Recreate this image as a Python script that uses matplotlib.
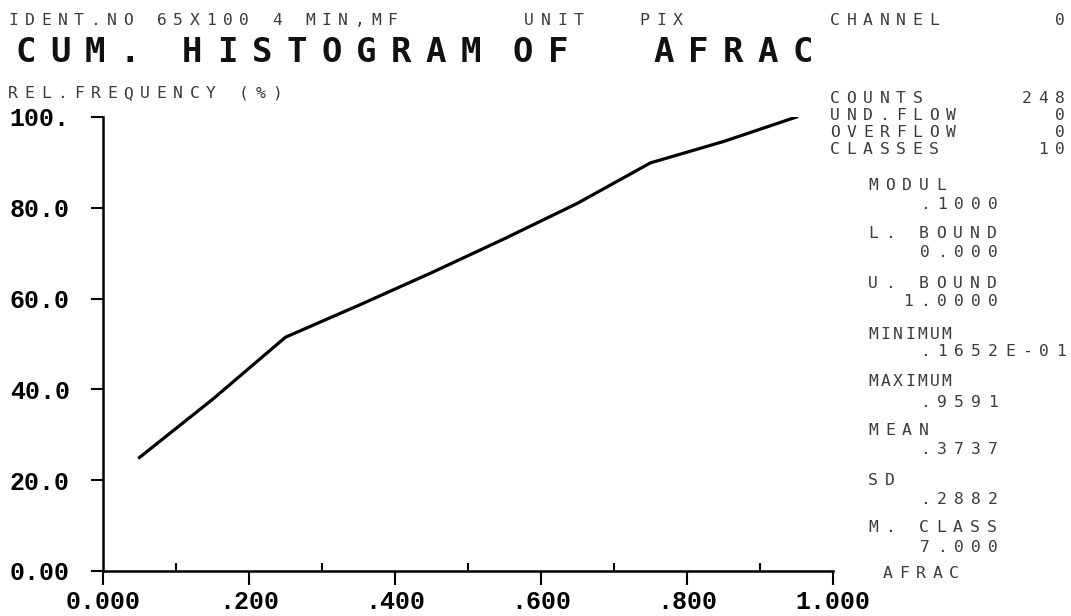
import matplotlib
matplotlib.use('Agg')
import matplotlib.pyplot as plt

W, H = 1071, 616

# cumulative relative frequency (%) of AFRAC, 10 classes of width .1
class_mid = [0.05, 0.15, 0.25, 0.35, 0.45, 0.55, 0.65, 0.75, 0.85, 0.95]
cum_freq = [25.0, 37.8, 51.5, 58.5, 65.7, 73.2, 81.0, 89.9, 94.6, 100.0]

x_ticks = [0.0, 0.2, 0.4, 0.6, 0.8, 1.0]
x_minor = [0.1, 0.3, 0.5, 0.7, 0.9]
x_ticklabels = ['0.000', '.200', '.400', '.600', '.800', '1.000']
y_ticks = [0, 20, 40, 60, 80, 100]
y_ticklabels = ['0.00', '20.0', '40.0', '60.0', '80.0', '100.']

count_names = ['COUNTS', 'UND.FLOW', 'OVERFLOW', 'CLASSES']
count_values = ['248', '0', '0', '10']
stat_names = ['MODUL', 'L. BOUND', 'U. BOUND', 'MINIMUM',
              'MAXIMUM', 'MEAN', 'SD', 'M. CLASS']
stat_values = [' .1000', ' 0.000', '1.0000', ' .1652E-01',
               ' .9591', ' .3737', ' .2882', ' 7.000']

fig = plt.figure(figsize=(W / 100, H / 100), dpi=100)


def plotter(x, y, s, pitch=16.5, size=11.8, cap=12, color='#3c3c3c',
            weight='normal', right=False):
    # fixed-pitch plotter lettering, x/y in pixels from top left
    if right:
        x = x - (len(s) - 1) * pitch
    for i, ch in enumerate(s):
        if ch == ' ':
            continue
        fig.text((x + i * pitch) / W, 1 - (y + cap / 2) / H, ch,
                 fontsize=size, family='DejaVu Sans Mono', weight=weight,
                 color=color, ha='left', va='baseline')


# header lines
plotter(8, 19, 'IDENT.NO 65X100 4 MIN,MF')
plotter(524, 19, 'UNIT   PIX')
plotter(830, 19, 'CHANNEL')
plotter(1055, 19, '0', right=True)

big = dict(pitch=34.8, size=24.5, cap=25, color='#111111', weight='bold')
plotter(15, 50, 'CUM.', **big)
plotter(182, 50, 'HISTOGRAM', **big)
plotter(513, 50, 'OF', **big)
plotter(653, 50, 'AFRAC', **big)

plotter(8, 92, 'REL.FREQUENCY (%)')

# statistics block
count_y = [97, 114, 131, 148]
for name, val, y in zip(count_names, count_values, count_y):
    plotter(830, y, name)
    plotter(1055, y, val, right=True)

name_y = [184, 232, 282, 333, 380, 429, 479, 526]
val_y = [203, 251, 300, 350, 401, 448, 498, 546]
name_pitch = [17, 17, 17, 12.3, 12.3, 17, 17, 17]
for name, val, yn, yv, p in zip(stat_names, stat_values, name_y, val_y,
                                name_pitch):
    plotter(868, yn, name, pitch=p)
    plotter(903, yv, val, pitch=17)

plotter(883, 572, 'AFRAC')

# plot area
ax = fig.add_axes([103 / W, 1 - 571 / H, 730 / W, 454 / H])
ax.plot(class_mid, cum_freq, color='black', lw=2.3)
ax.set_xlim(0, 1)
ax.set_ylim(0, 100)
for side in ['top', 'right']:
    ax.spines[side].set_visible(False)
for side in ['left', 'bottom']:
    ax.spines[side].set_linewidth(1.8)

ax.set_xticks(x_ticks)
ax.set_xticklabels(x_ticklabels)
ax.set_xticks(x_minor, minor=True)
ax.set_yticks(y_ticks)
ax.set_yticklabels(y_ticklabels)

for lab in ax.get_xticklabels() + ax.get_yticklabels():
    lab.set_fontfamily('Liberation Mono')
    lab.set_fontweight('bold')

ax.tick_params(axis='x', which='major', direction='out', length=10,
               width=1.5, pad=4, labelsize=18)
ax.tick_params(axis='x', which='minor', direction='in', length=6, width=1.5)
ax.tick_params(axis='y', which='major', direction='out', length=9,
               width=1.5, pad=15, labelsize=18)

fig.savefig('out.png', dpi=100)
